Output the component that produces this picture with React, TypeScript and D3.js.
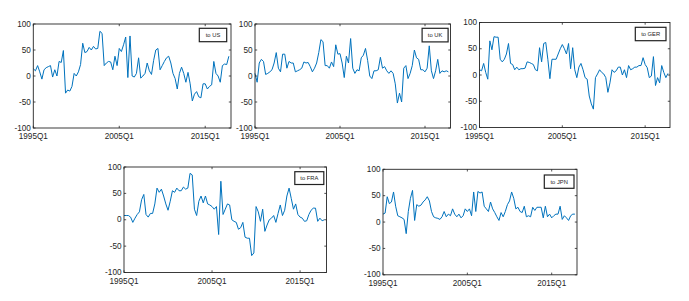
import React from "react";
import * as d3 from "d3";

// ---- data (quarterly, 1995Q1 .. 2017Q4) ----
const START_YEAR = 1995;
const xTickLabels = ["1995Q1", "2005Q1", "2015Q1"];
const yTicks = [-100, -50, 0, 50, 100];
const legendNames = ["to US", "to UK", "to GER", "to FRA", "to JPN"];

const toUS = [
  14, 10, 20, 8, -6, 12, 16, 18, 20, -2,
  12, 0, 28, 26, 49, -33, -27, -29, -20, 5,
  0, 8, 22, 63, 45, 47, 55, 50, 57, 52,
  53, 86, 82, 20, 25, 28, 27, 12, 38, 20,
  53, 47, 60, 75, -3, 77, 0, -2, 5, 35,
  -4, 0, 5, 25, 10, 3, 30, 50, 53, 12,
  20, 28, 35, 38, 25, 5, -5, -25, 5, 17,
  5, -12, 7, -15, -48, -35, -30, -40, -42, -15,
  -15, -25, -20, -17, 28, 5, 0, -12, 20, 23,
  22, 38,
];

const toUK = [
  5, -12, 25, 32, 28, 3, 5, 8, 12, 25,
  45, 15, 8, 42, 42, 15, 28, 25, 25, 8,
  10, 12, 15, 27, 25, 26, 18, 8, 15, 25,
  45, 70, 66, 20, 20, 15, 27, 18, 60, 42,
  43, 25, -3, 38, 25, 72, 15, 5, 12, 10,
  35, 40, 53, 30, 0, -5, 10, 10, 12, 36,
  15, 18, 10, 5, 10, 5, -15, -52, -33, -50,
  15, 20, -5, 5, 20, 50, 35, 32, 12, 12,
  8, 15, 58, 10, -5, 10, 32, 5, 10, 8,
  10, 8,
];

const toGER = [
  10, 8, 22, 5, -8, 65, 48, 73, 72, 72,
  30, 25, 30, 40, 60, 22, 20, 10, 15, 10,
  12, 12, 13, 25, 24, 22, 20, 10, 8, 52,
  25, 60, 62, 30, -7, 30, 30, 30, 40, 50,
  58, 50, 40, 60, 12, 52, 10, -5, 15, 22,
  10, -5, -8, -40, -55, -65, -5, 2, 10, 5,
  2, -5, -33, -15, 10, 5, 8, 15, 15, 0,
  10, -5, 18, 10, 12, 15, 15, 18, 18, 33,
  20, 14, -5, -2, 35, -20, -5, -15, 18, 5,
  -5, 3,
];

const toFRA = [
  8, 8, 8, 5, -5, 3, 10, 15, 38, 48,
  10, 5, 12, 12, 30, 60, 52, 58, 45, 30,
  18, 35, 55, 52, 60, 55, 55, 62, 58, 60,
  88, 85, 20, 8, 35, 45, 32, 45, 30, 28,
  25, 20, 25, -28, 73, 10, 20, 30, 28, 0,
  -3, -5, -18, -15, -5, -33, -35, -35, -68, -63,
  25, 15, -3, 20, -22, -10, 0, 3, 8, -5,
  12, 28, 8, 18, 45, 60, 40, 20, 30, 10,
  5, 3, -3, -2, 10, 18, 22, 22, -3, 3,
  -2, 0,
];

const toJPN = [
  15, 17, 48, 35, 38, 57, 30, 12, 10, 8,
  5, -22, 20, 45, 60, 3, 33, 30, 32, 38,
  42, 48, 40, 20, 10, 8, 7, 5, 10, 20,
  10, 15, 12, 25, 15, 10, 15, 8, 12, 25,
  20, 25, 12, 57, 20, 58, 55, 57, 30, 25,
  20, 38, 25, 18, 10, 3, 18, 10, 20, 33,
  40, 57, 45, 25, 28, 20, 18, 30, 10, 12,
  10, 28, 22, 28, 28, 28, 8, 30, 10, 15,
  8, 12, 15, 15, 30, 5, 12, 8, 3, 12,
  15, 15,
];

const seriesList = [toUS, toUK, toGER, toFRA, toJPN];

// ---- layout ----
const W = 689;
const H = 301;
const layout = [
  { left: 33.3, right: 231, top: 24, bottom: 128, lw: 27.4, lh: 13.4, lr: 4.3, lt: 4.3 },
  { left: 255, right: 450.5, top: 24, bottom: 128, lw: 26, lh: 13.6, lr: 2.4, lt: 4.3 },
  { left: 479.5, right: 670, top: 22.5, bottom: 127.5, lw: 30.7, lh: 13.4, lr: 4, lt: 4.8 },
  { left: 124, right: 326.5, top: 167, bottom: 272.5, lw: 29, lh: 12.8, lr: 2.7, lt: 4.7 },
  { left: 383, right: 577, top: 169.3, bottom: 274.8, lw: 29.7, lh: 13.3, lr: 3, lt: 5.7 },
];

const AX = "#262626";
const LINE = "#0072BD";
const FONT = "'Liberation Sans', Arial, Helvetica, sans-serif";
const TICK = 2.2;

function Panel({ data, name, g }: { data: number[]; name: string; g: typeof layout[number] }) {
  const n = 92;
  const x = d3.scaleLinear().domain([0, n]).range([g.left, g.right]);
  const y = d3.scaleLinear().domain([-100, 100]).range([g.bottom, g.top]);
  const line = d3
    .line<number>()
    .x((_, i) => x(i))
    .y((d) => y(d));
  const xTicks = xTickLabels.map((lab) => ({
    lab,
    i: (parseInt(lab.slice(0, 4), 10) - START_YEAR) * 4,
  }));
  const lx = g.right - g.lr - g.lw;
  const ly = g.top + g.lt;
  return (
    <g>
      <path d={line(data) || ""} fill="none" stroke={LINE} strokeWidth={1} strokeLinejoin="round" />
      <rect
        x={g.left}
        y={g.top}
        width={g.right - g.left}
        height={g.bottom - g.top}
        fill="none"
        stroke={AX}
        strokeWidth={0.9}
      />
      {yTicks.map((t) => (
        <g key={"y" + t}>
          <line x1={g.left} x2={g.left + TICK} y1={y(t)} y2={y(t)} stroke={AX} strokeWidth={0.8} />
          <line x1={g.right} x2={g.right - TICK} y1={y(t)} y2={y(t)} stroke={AX} strokeWidth={0.8} />
          <text
            x={g.left - 2.5}
            y={y(t)}
            textAnchor="end"
            dominantBaseline="central"
            fontSize={8.2}
            fontFamily={FONT}
            fill={AX}
          >
            {t}
          </text>
        </g>
      ))}
      {xTicks.map((t) => (
        <g key={"x" + t.lab}>
          <line x1={x(t.i)} x2={x(t.i)} y1={g.bottom} y2={g.bottom - TICK} stroke={AX} strokeWidth={0.8} />
          <line x1={x(t.i)} x2={x(t.i)} y1={g.top} y2={g.top + TICK} stroke={AX} strokeWidth={0.8} />
          <text
            x={x(t.i)}
            y={g.bottom + 11}
            textAnchor="middle"
            fontSize={8.2}
            fontFamily={FONT}
            fill={AX}
          >
            {t.lab}
          </text>
        </g>
      ))}
      <rect x={lx} y={ly} width={g.lw} height={g.lh} fill="#ffffff" stroke="#222" strokeWidth={1.2} />
      <text
        x={lx + g.lw / 2}
        y={ly + g.lh / 2}
        textAnchor="middle"
        dominantBaseline="central"
        fontSize={5.8}
        fontFamily={FONT}
        fill={AX}
      >
        {name}
      </text>
    </g>
  );
}

export default function App() {
  return (
    <div style={{ position: "absolute", left: 0, top: 0, width: W, height: H, background: "#fff" }}>
      <svg width={W} height={H} viewBox={`0 0 ${W} ${H}`} style={{ display: "block" }}>
        <rect width={W} height={H} fill="#fff" />
        {seriesList.map((s, k) => (
          <Panel key={k} data={s} name={legendNames[k]} g={layout[k]} />
        ))}
      </svg>
    </div>
  );
}
